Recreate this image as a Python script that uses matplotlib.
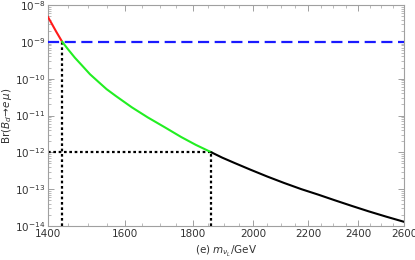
import matplotlib
matplotlib.use("Agg")
import matplotlib.pyplot as plt
from matplotlib.ticker import FixedLocator, NullFormatter, LogLocator, FixedFormatter

# Data
m_red = [1400, 1410, 1420, 1435]
br_red = [4.7e-9, 3.0e-9, 1.9e-9, 1.0e-9]
m_green = [1435, 1450, 1467, 1485, 1506, 1530, 1550, 1575, 1620, 1665, 1715, 1765, 1810, 1860]
br_green = [1.0e-9, 6.2e-10, 3.7e-10, 2.3e-10, 1.32e-10, 7.9e-11, 5.2e-11, 3.4e-11,
            1.66e-11, 8.9e-12, 4.8e-12, 2.6e-12, 1.6e-12, 1.0e-12]
m_black = [1860, 1895, 1935, 1990, 2050, 2110, 2175, 2240, 2305, 2375, 2445, 2520, 2600]
br_black = [1.0e-12, 7.2e-13, 5.2e-13, 3.4e-13, 2.2e-13, 1.48e-13, 1.0e-13, 7.1e-14,
            5.0e-14, 3.5e-14, 2.5e-14, 1.8e-14, 1.3e-14]

bound_upper = 1e-9
bound_future = 1e-12
m_cross1 = 1435
m_cross2 = 1860

x_ticks = [1400, 1600, 1800, 2000, 2200, 2400, 2600]
x_minor = [1450, 1500, 1550, 1650, 1700, 1750, 1850, 1900, 1950, 2050, 2100, 2150,
           2250, 2300, 2350, 2450, 2500, 2550]
y_ticks = [1e-14, 1e-13, 1e-12, 1e-11, 1e-10, 1e-9, 1e-8]
y_labels = [r"$10^{-14}$", r"$10^{-13}$", r"$10^{-12}$", r"$10^{-11}$",
            r"$10^{-10}$", r"$10^{-9}$", r"$10^{-8}$"]

fig = plt.figure(figsize=(4.15, 2.6), dpi=100)
ax = fig.add_axes([48/415, 1-226/260, 356/415, 221/260])

ax.set_xscale("log")
ax.set_yscale("log")
ax.set_xlim(1400, 2600)
ax.set_ylim(1e-14, 1e-8)

dot = (0, (1.2, 1.2))
ax.axhline(bound_upper, color="#1a1aff", lw=1.6, ls=(0, (5, 2.5)), zorder=3)
ax.plot([m_cross1, m_cross1], [1e-14, bound_upper], color="black", lw=1.6, ls=dot, zorder=2)
ax.plot([1400, m_cross2], [bound_future, bound_future], color="black", lw=1.6, ls=dot, zorder=2)
ax.plot([m_cross2, m_cross2], [1e-14, bound_future], color="black", lw=1.6, ls=dot, zorder=2)

ax.plot(m_red, br_red, color="#ff1a1a", lw=1.5, zorder=4, solid_joinstyle="round")
ax.plot(m_green, br_green, color="#22ee22", lw=1.5, zorder=4, solid_joinstyle="round")
ax.plot(m_black, br_black, color="black", lw=1.5, zorder=4, solid_joinstyle="round")

ax.xaxis.set_major_locator(FixedLocator(x_ticks))
ax.xaxis.set_major_formatter(FixedFormatter([str(v) for v in x_ticks]))
ax.xaxis.set_minor_locator(FixedLocator(x_minor))
ax.xaxis.set_minor_formatter(NullFormatter())
ax.yaxis.set_major_locator(FixedLocator(y_ticks))
ax.yaxis.set_major_formatter(FixedFormatter(y_labels))
ax.yaxis.set_minor_locator(LogLocator(base=10, subs=range(2, 10), numticks=20))
ax.yaxis.set_minor_formatter(NullFormatter())

for sp in ax.spines.values():
    sp.set_color("#a0a0a0")
    sp.set_linewidth(0.8)
ax.tick_params(which="both", direction="in", top=True, right=True, color="#a0a0a0",
               labelsize=7.5, labelcolor="#333333", pad=2)
ax.tick_params(which="major", length=4, width=0.7)
ax.tick_params(which="minor", length=2, width=0.5)

ax.set_ylabel(r"Br($B_d\!\rightarrow\! e\,\mu$)", fontsize=7.5, color="#333333", labelpad=1)
ax.set_xlabel(r"(e) $m_{\nu_L}$/GeV", fontsize=7.5, color="#333333", labelpad=4)

fig.savefig("out.png", dpi=100)
